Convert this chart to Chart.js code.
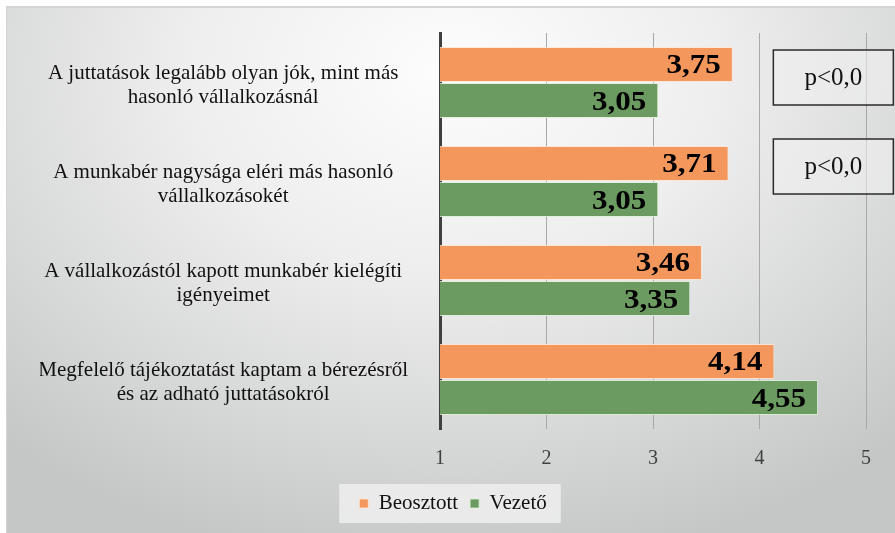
<!DOCTYPE html>
<html>
<head>
<meta charset="utf-8">
<script src="https://cdn.jsdelivr.net/npm/chart.js@4.4.1/dist/chart.umd.min.js"></script>
<style>
  html, body { margin: 0; padding: 0; background: #ffffff; }
  #wrap { position: relative; width: 895px; height: 533px; overflow: hidden; }
  #frame {
    position: absolute; left: 6px; top: 6px; width: 889px; height: 527px;
    border-left: 1px solid #d4d4d4; border-top: 2px solid #d4d4d4;
    box-sizing: border-box;
    background: radial-gradient(ellipse 75% 95% at 50% 12%, #fdfdfd 0%, #eeeeee 40%, #d6d7d7 75%, #c5c7c7 100%);
  }
  #chart { position: absolute; left: 0; top: 0; }
</style>
</head>
<body>
<div id="wrap">
  <div id="frame"></div>
  <canvas id="chart" width="895" height="533"></canvas>
</div>
<script>
// kérdések (kategóriák)
const categories = [
  ['A juttatások legalább olyan jók, mint más', 'hasonló vállalkozásnál'],
  ['A munkabér nagysága eléri más hasonló', 'vállalkozásokét'],
  ['A vállalkozástól kapott munkabér kielégíti', 'igényeimet'],
  ['Megfelelő tájékoztatást kaptam a bérezésről', 'és az adható juttatásokról']
];
const beosztott = [3.75, 3.71, 3.46, 4.14];
const vezeto = [3.05, 3.05, 3.35, 4.55];
const xTicks = [1, 2, 3, 4, 5];
// szignifikancia dobozok (kategória index -> szöveg)
const pBoxes = [
  { index: 0, text: 'p<0,0' },
  { index: 1, text: 'p<0,0' }
];

const SERIF = '"Liberation Serif", "Times New Roman", serif';

// értékcímkék a sávok végén
const valueLabels = {
  id: 'valueLabels',
  afterDatasetsDraw(chart) {
    const ctx = chart.ctx;
    chart.data.datasets.forEach((ds, i) => {
      chart.getDatasetMeta(i).data.forEach((bar, j) => {
        ctx.save();
        ctx.translate(bar.x - 12, bar.y + 2);
        ctx.scale(1.15, 1);
        ctx.font = 'bold 27px ' + SERIF;
        ctx.fillStyle = '#000000';
        ctx.textAlign = 'right';
        ctx.textBaseline = 'middle';
        ctx.fillText(ds.data[j].toFixed(2).replace('.', ','), 0, 0);
        ctx.restore();
      });
    });
  }
};

// p-érték dobozok + jelmagyarázat háttér
const extras = {
  id: 'extras',
  beforeDraw(chart) {
    const ctx = chart.ctx;
    const boxes = chart.legend && chart.legend.legendHitBoxes;
    if (boxes && boxes.length) {
      const left = Math.min(...boxes.map(b => b.left)) - 20;
      const right = Math.max(...boxes.map(b => b.left + b.width)) + 14;
      const top = boxes[0].top - 9;
      const bottom = boxes[0].top + boxes[0].height + 9;
      ctx.save();
      ctx.fillStyle = 'rgba(238,238,238,0.85)';
      ctx.fillRect(left, top, right - left, bottom - top);
      ctx.restore();
    }
  },
  afterDraw(chart) {
    const ctx = chart.ctx;
    const x = chart.scales.x;
    const y = chart.scales.y;
    ctx.save();
    pBoxes.forEach(p => {
      const cy = y.getPixelForValue(p.index) - 5 - p.index * 10;
      const left = x.getPixelForValue(4.13);
      const w = 120, h = 55;
      ctx.fillStyle = 'rgba(240,240,240,0.6)';
      ctx.fillRect(left, cy - h / 2, w, h);
      ctx.strokeStyle = '#2b2b2b';
      ctx.lineWidth = 1.5;
      ctx.strokeRect(left, cy - h / 2, w, h);
      ctx.fillStyle = '#111111';
      ctx.font = '25px ' + SERIF;
      ctx.textAlign = 'center';
      ctx.textBaseline = 'middle';
      ctx.fillText(p.text, left + w / 2, cy + 1);
    });
    ctx.restore();
  }
};

new Chart(document.getElementById('chart'), {
  type: 'bar',
  data: {
    labels: categories,
    datasets: [
      {
        label: 'Beosztott',
        data: beosztott,
        backgroundColor: '#f4975c',
        borderColor: 'rgba(255,230,210,0.8)',
        borderWidth: 1,
        categoryPercentage: 0.73,
        barPercentage: 0.97
      },
      {
        label: 'Vezető',
        data: vezeto,
        backgroundColor: '#6b9b60',
        borderColor: 'rgba(220,240,215,0.8)',
        borderWidth: 1,
        categoryPercentage: 0.73,
        barPercentage: 0.97
      }
    ]
  },
  options: {
    indexAxis: 'y',
    responsive: false,
    animation: false,
    layout: { padding: { left: 40, right: 29, top: 33, bottom: 9 } },
    scales: {
      x: {
        min: 1,
        max: 5,
        afterBuildTicks(scale) { scale.ticks = xTicks.map(v => ({ value: v })); },
        afterFit(scale) { scale.height = 52; },
        grid: { color: '#a8a8a8', lineWidth: 1, drawTicks: true, tickLength: 0 },
        border: { display: false },
        ticks: {
          color: '#404040',
          padding: 18,
          font: { family: SERIF, size: 20 }
        }
      },
      y: {
        grid: { display: false },
        border: { display: true, color: '#404040', width: 3 },
        afterFit(scale) {
          scale.width = 400;
          // a címkék ne tolják le a rajzterületet
          scale.paddingTop = 0;
          scale.paddingBottom = 0;
        },
        ticks: {
          crossAlign: 'center',
          padding: 24,
          labelOffset: 3,
          color: '#111111',
          font: { family: SERIF, size: 21, lineHeight: 1.1 }
        }
      }
    },
    plugins: {
      legend: {
        position: 'bottom',
        labels: {
          color: '#111111',
          boxWidth: 9,
          boxHeight: 9,
          padding: 12,
          font: { family: SERIF, size: 21 }
        }
      },
      tooltip: { enabled: false }
    }
  },
  plugins: [valueLabels, extras]
});
</script>
</body>
</html>
